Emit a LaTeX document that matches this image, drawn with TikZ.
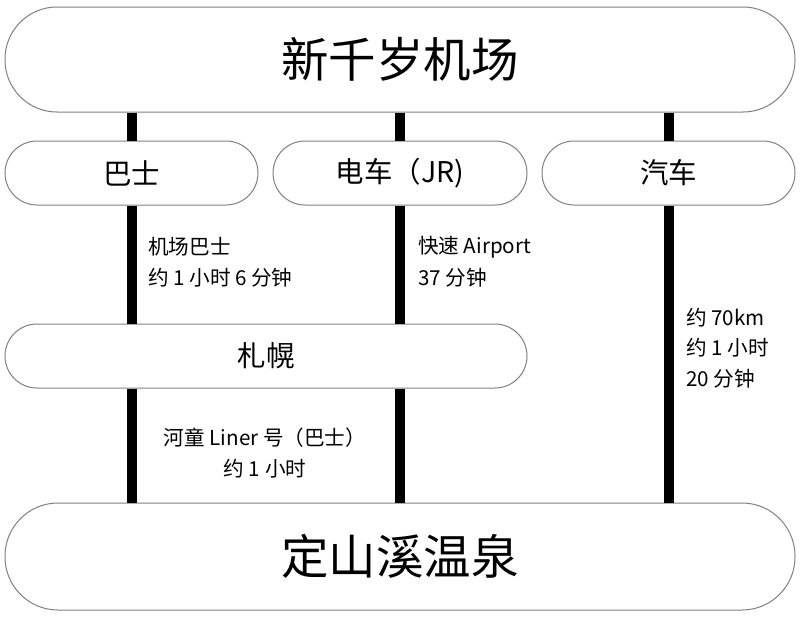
\documentclass[tikz,border=0pt]{standalone}
\usepackage{fontspec}
\setmainfont{Noto Sans CJK SC}
\begin{document}
\begin{tikzpicture}[x=1pt,y=-1pt,
  pill/.style={draw=black!50,line width=1pt,fill=white,inner sep=0pt},
  link/.style={line width=10pt,black},
  big/.style={font=\fontsize{47.5}{50}\selectfont},
  mid/.style={font=\fontsize{28.5}{30}\selectfont},
  small/.style={font=\fontsize{20.6}{24}\selectfont,inner sep=0pt}]
\useasboundingbox (0,0) rectangle (800,616);
\fill[white] (0,0) rectangle (800,616);
\node[pill,big,minimum width=790pt,minimum height=105pt,rounded corners=52pt] (top) at (400,59.5) {新千岁机场};
\node[pill,mid,minimum width=253pt,minimum height=64pt,rounded corners=32pt] (bus) at (131.5,173) {巴士};
\node[pill,mid,minimum width=254pt,minimum height=64pt,rounded corners=32pt] (jr) at (400,173) {电车（JR)};
\node[pill,mid,minimum width=253pt,minimum height=64pt,rounded corners=32pt] (car) at (668.5,173) {汽车};
\node[pill,mid,minimum width=522pt,minimum height=64pt,rounded corners=32pt] (spr) at (266,356) {札幌};
\node[pill,big,minimum width=790pt,minimum height=107pt,rounded corners=53pt] (bot) at (400,556.5) {定山溪温泉};
% connectors
\draw[link] (bus.north |- top.south) -- (bus.north);
\draw[link] (jr.north |- top.south) -- (jr.north);
\draw[link] (car.north |- top.south) -- (car.north);
\draw[link] (bus.south) -- (bus.south |- spr.north);
\draw[link] (jr.south) -- (jr.south |- spr.north);
\draw[link] (bus.south |- spr.south) -- (bus.south |- bot.north);
\draw[link] (jr.south |- spr.south) -- (jr.south |- bot.north);
\draw[link] (car.south) -- (car.south |- bot.north);
% labels
\node[small,anchor=west] (b1) at (148,247) {机场巴士};
\node[small,anchor=west] (b2) at (148,278) {约 1 小时 6 分钟};
\node[small,anchor=west] (j1) at (418,247) {快速 Airport};
\node[small,anchor=west] (j2) at (418,278) {37 分钟};
\node[small,anchor=west] (c1) at (686,318) {约 70km};
\node[small,anchor=west] (c2) at (686,348) {约 1 小时};
\node[small,anchor=west] (c3) at (686,379) {20 分钟};
\node[small] (s1) at (265,438) {河童 Liner 号（巴士）};
\node[small] (s2) at (265,469) {约 1 小时};
\end{tikzpicture}
\end{document}
